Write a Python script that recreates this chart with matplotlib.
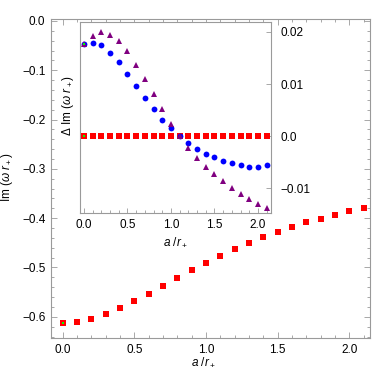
import matplotlib
matplotlib.use("Agg")
import matplotlib.pyplot as plt
import numpy as np
from matplotlib.ticker import FixedLocator, MultipleLocator

plt.rcParams['font.family'] = ['Liberation Sans', 'DejaVu Sans']
plt.rcParams['mathtext.fontset'] = 'custom'
plt.rcParams['mathtext.rm'] = 'Liberation Sans'
plt.rcParams['mathtext.it'] = 'Liberation Sans:italic'
plt.rcParams['mathtext.default'] = 'it'

# ---------------- data ----------------
a_vals = [0.0, 0.1, 0.2, 0.3, 0.4, 0.5, 0.6, 0.7, 0.8, 0.9, 1.0,
          1.1, 1.2, 1.3, 1.4, 1.5, 1.6, 1.7, 1.8, 1.9, 2.0, 2.1]

im_main = [-0.612, -0.610, -0.604, -0.594, -0.582, -0.568, -0.553, -0.537,
           -0.522, -0.506, -0.490, -0.477, -0.462, -0.450, -0.439, -0.429,
           -0.418, -0.408, -0.401, -0.393, -0.386, -0.379]

green_a = [0.0]
green_main = [-0.612]

delta_red = [0.0] * 22
delta_blue = [0.0176, 0.0179, 0.0174, 0.0160, 0.0142, 0.0119, 0.0097, 0.0074,
              0.0053, 0.0031, 0.0015, 0.0001, -0.00135, -0.0025, -0.0034,
              -0.0041, -0.00475, -0.0052, -0.0055, -0.00585, -0.00585, -0.0055]
delta_purple = [0.0176, 0.0192, 0.0199, 0.0195, 0.0183, 0.0163, 0.0137, 0.0110,
                0.0081, 0.0052, 0.0024, 0.0000, -0.0023, -0.0042, -0.00585,
                -0.0073, -0.0087, -0.0100, -0.0111, -0.0121, -0.0130, -0.0137]
green_delta = [0.0176, 0.0]
green_delta_a = [0.0, 0.0]

main_xticks = [0.0, 0.5, 1.0, 1.5, 2.0]
main_xticklabels = ["0.0", "0.5", "1.0", "1.5", "2.0"]
main_yticks = [0.0, -0.1, -0.2, -0.3, -0.4, -0.5, -0.6]
main_yticklabels = ["0.0", "\u22120.1", "\u22120.2", "\u22120.3", "\u22120.4", "\u22120.5", "\u22120.6"]
inset_yticks = [0.02, 0.01, 0.0, -0.01]
inset_yticklabels = ["0.02", "0.01", "0.0", "\u22120.01"]

RED = "#ff0000"
BLUE = "#0000ff"
PURPLE = "#800080"
GREEN = "#00ff00"
SPINE = "#9a9a9a"
FS = 8.5

fig = plt.figure(figsize=(3.9, 3.75), dpi=100)

# ---------------- main axes ----------------
ax = fig.add_axes([51/390, 1-338/375, (370-51)/390, (338-19)/375])
ax.plot(a_vals, im_main, ls='none', marker='s', ms=4.5, mew=0, color=RED, zorder=3)
ax.plot(green_a, green_main, ls='none', marker='s', ms=1.8, mew=0, color=GREEN, zorder=4)
ax.set_xlim(-0.082, 2.145)
ax.set_ylim(-0.643, 0.004)
ax.xaxis.set_major_locator(FixedLocator(main_xticks))
ax.set_xticklabels(main_xticklabels)
ax.xaxis.set_minor_locator(MultipleLocator(0.1))
ax.yaxis.set_major_locator(FixedLocator(main_yticks))
ax.set_yticklabels(main_yticklabels)
ax.yaxis.set_minor_locator(MultipleLocator(0.02))
ax.tick_params(which='both', direction='in', top=True, right=True,
               color=SPINE, labelsize=FS, width=0.6)
ax.tick_params(which='major', length=4)
ax.tick_params(which='minor', length=2)
ax.tick_params(axis='y', pad=4)
ax.tick_params(axis='x', pad=4)
for s in ax.spines.values():
    s.set_color(SPINE)
    s.set_linewidth(0.8)
ax.set_xlabel(r"$a\ /r_+$", fontsize=FS)
ax.xaxis.set_label_coords((203-51)/(370-51), -(356-338)/(338-19))
ax.set_ylabel(r"Im $(\omega\ r_+)$", fontsize=FS)
ax.yaxis.set_label_coords(-(51-15)/(370-51), (338-177)/(338-19))

# ---------------- inset ----------------
ins = fig.add_axes([80/390, 1-213/375, (271-80)/390, (213-22)/375])
ins.plot(a_vals, delta_red, ls='none', marker='s', ms=4.5, mew=0, color=RED, zorder=3)
ins.plot(a_vals, delta_blue, ls='none', marker='o', ms=4.2, mew=0, color=BLUE, zorder=4)
ins.plot(a_vals, delta_purple, ls='none', marker='^', ms=5.0, mew=0, color=PURPLE, zorder=5)
ins.plot(green_delta_a, green_delta, ls='none', marker='s', ms=1.8, mew=0, color=GREEN, zorder=6)
ins.set_xlim(-0.046, 2.15)
ins.set_ylim(-0.01475, 0.0219)
ins.xaxis.set_major_locator(FixedLocator(main_xticks))
ins.set_xticklabels(main_xticklabels)
ins.xaxis.set_minor_locator(MultipleLocator(0.1))
ins.yaxis.set_major_locator(FixedLocator(inset_yticks))
ins.set_yticklabels(inset_yticklabels)
ins.yaxis.tick_right()
ins.tick_params(which='both', direction='in', color=SPINE, labelsize=FS, width=0.6)
ins.tick_params(axis='y', which='both', left=False, right=True, labelleft=False, labelright=True, pad=7)
ins.tick_params(axis='x', which='both', top=False, bottom=True, pad=4)
ins.tick_params(which='major', length=3.5)
ins.tick_params(which='minor', length=2)
for s in ins.spines.values():
    s.set_color(SPINE)
    s.set_linewidth(0.8)
ins.set_xlabel(r"$a\ /r_+$", fontsize=FS)
ins.xaxis.set_label_coords((175-80)/(271-80), -(236-213)/(213-22))
ins.set_ylabel(r"$\Delta$ Im $(\omega\ r_+)$", fontsize=FS)
ins.yaxis.set_label_position('left')
ins.yaxis.set_label_coords(-(80-76)/(271-80), (213-106)/(213-22))

fig.savefig("out.png", dpi=100)
